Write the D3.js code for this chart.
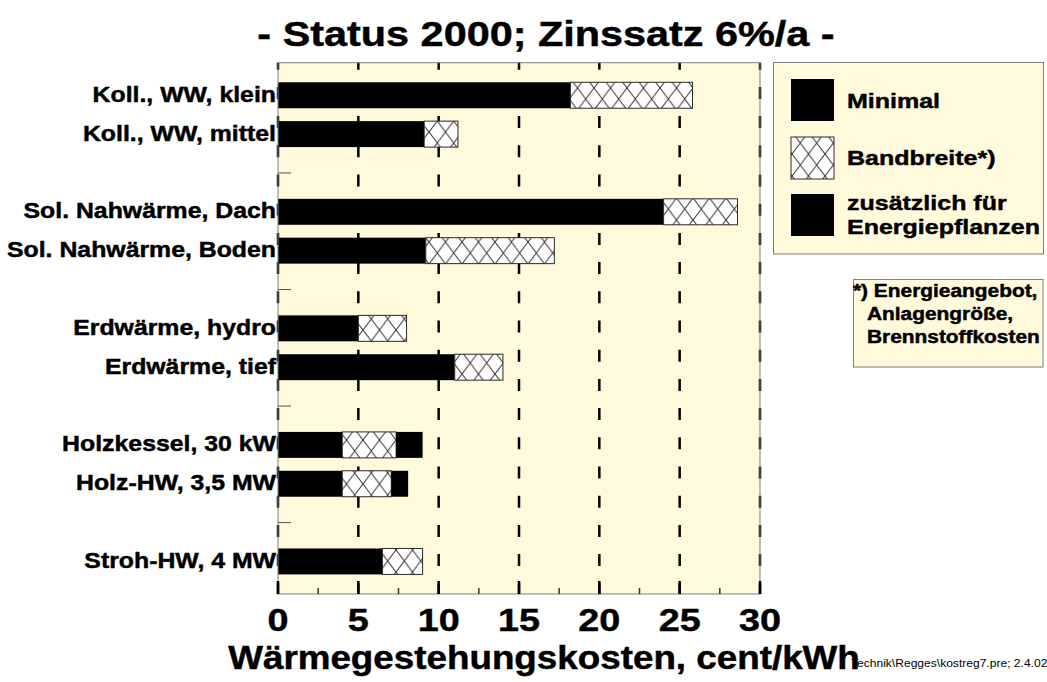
<!DOCTYPE html>
<html>
<head>
<meta charset="utf-8">
<script src="https://cdn.jsdelivr.net/npm/d3@7"></script>
<style>
  html, body { margin: 0; padding: 0; background: #ffffff; }
  svg { display: block; }
  text { font-family: "Liberation Sans", Arial, Helvetica, sans-serif; font-weight: bold; fill: #000; }
  text.heavy { stroke: #000; stroke-width: 0.45px; }
</style>
</head>
<body>
<svg id="chart" width="1047" height="682"></svg>
<script>
// ---------------- data ----------------
const categories = [
  "Koll., WW, klein", "Koll., WW, mittel",
  "Sol. Nahwärme, Dach", "Sol. Nahwärme, Boden",
  "Erdwärme, hydro", "Erdwärme, tief",
  "Holzkessel, 30 kW", "Holz-HW, 3,5 MW",
  "Stroh-HW, 4 MW"
];
const groups = [0, 0, 1, 1, 2, 2, 3, 3, 4];
// minimal cost (black)
const minimal = [18.2, 9.1, 24.0, 9.2, 5.0, 11.0, 4.0, 4.0, 6.5];
// upper end of range (hatched "Bandbreite")
const bandMax = [25.8, 11.2, 28.6, 17.2, 8.0, 14.0, 7.35, 7.05, 9.0];
// upper end incl. energy crops (black, only for wood)
const energyMax = [null, null, null, null, null, null, 9.0, 8.1, null];
const xTicks = [0, 5, 10, 15, 20, 25, 30];
const xMinorTicks = [2.5, 7.5, 12.5, 17.5, 22.5, 27.5];
const titleText = "- Status 2000; Zinssatz 6%/a -";
const xTitleText = "Wärmegestehungskosten, cent/kWh";
const legendLabels = [["Minimal"], ["Bandbreite*)"], ["zusätzlich für", "Energiepflanzen"]];
const noteLines = ["*) Energieangebot,", "Anlagengröße,", "Brennstoffkosten"];
const footerText = "Technik\\Regges\\kostreg7.pre; 2.4.02";

// ---------------- layout ----------------
const svg = d3.select("#chart");
const plot = { left: 278, right: 760, top: 62.7, bottom: 594 };
const cream = "#FFFADC";
const frameGray = "#7f7f7f";

// slot domain: categories plus separator slots between groups
const slots = [];
categories.forEach((c, i) => {
  if (i > 0 && groups[i] !== groups[i - 1]) slots.push("gap" + groups[i]);
  slots.push(c);
});

const x = d3.scaleLinear().domain([0, 30]).range([plot.left, plot.right]);
const y = d3.scaleBand().domain(slots).range([plot.top, plot.bottom])
  .paddingInner(0.332).paddingOuter(0.504);

function stext(g, str, px, py, size, anchor, sx, weight) {
  return g.append("text")
    .attr("class", weight ? null : "heavy")
    .attr("transform", `translate(${px},${py}) scale(${sx},1)`)
    .attr("text-anchor", anchor)
    .style("font-size", size + "px")
    .style("font-weight", weight || "bold")
    .text(str);
}

// hatch pattern
const defs = svg.append("defs");
const pat = defs.append("pattern").attr("id", "hatch")
  .attr("patternUnits", "userSpaceOnUse").attr("width", 16.5).attr("height", 22);
pat.append("rect").attr("width", 16.5).attr("height", 22).attr("fill", "#ffffff");
pat.append("path").attr("d", "M0,0L16.5,22M16.5,0L0,22")
  .attr("stroke", "#3a2a32").attr("stroke-width", 1).attr("fill", "none");

// ---------------- title ----------------
stext(svg, titleText, 546, 46, 36, "middle", 1.15);

// ---------------- plot background ----------------
svg.append("rect")
  .attr("x", plot.left).attr("y", plot.top)
  .attr("width", plot.right - plot.left).attr("height", plot.bottom - plot.top)
  .attr("fill", cream);

// dashed grid lines
svg.append("g").selectAll("line").data(xTicks).join("line")
  .attr("x1", d => x(d)).attr("x2", d => x(d))
  .attr("y1", plot.top).attr("y2", plot.bottom)
  .attr("stroke", "#000").attr("stroke-width", 2.5)
  .attr("stroke-dasharray", "12,17.2").attr("stroke-dashoffset", 5);

// ---------------- bars ----------------
const bars = svg.append("g");
categories.forEach((c, i) => {
  const y0 = y(c), h = y.bandwidth();
  bars.append("rect").attr("x", x(0)).attr("y", y0)
    .attr("width", x(minimal[i]) - x(0)).attr("height", h).attr("fill", "#000");
  bars.append("rect").attr("x", x(minimal[i]) ).attr("y", y0)
    .attr("width", x(bandMax[i]) - x(minimal[i])).attr("height", h)
    .attr("fill", "url(#hatch)").attr("stroke", "#2a2a2a").attr("stroke-width", 1);
  if (energyMax[i] != null) {
    bars.append("rect").attr("x", x(bandMax[i])).attr("y", y0)
      .attr("width", x(energyMax[i]) - x(bandMax[i])).attr("height", h).attr("fill", "#000");
  }
});

// ---------------- frame & axes ----------------
svg.append("rect")
  .attr("x", plot.left).attr("y", plot.top)
  .attr("width", plot.right - plot.left).attr("height", plot.bottom - plot.top)
  .attr("fill", "none").attr("stroke", frameGray).attr("stroke-width", 1);

// category separator ticks on y axis
svg.append("g").selectAll("line").data(slots.filter(s => s.startsWith("gap"))).join("line")
  .attr("x1", plot.left).attr("x2", plot.left + 13)
  .attr("y1", d => y(d) + y.bandwidth() / 2).attr("y2", d => y(d) + y.bandwidth() / 2)
  .attr("stroke", "#555").attr("stroke-width", 1);

// x axis ticks
const xAxisG = svg.append("g");
xAxisG.selectAll("line.maj").data(xTicks).join("line").attr("class", "maj")
  .attr("x1", d => x(d)).attr("x2", d => x(d))
  .attr("y1", plot.bottom - 13).attr("y2", plot.bottom)
  .attr("stroke", "#000").attr("stroke-width", 2.5);
xAxisG.selectAll("line.min").data(xMinorTicks).join("line").attr("class", "min")
  .attr("x1", d => x(d)).attr("x2", d => x(d))
  .attr("y1", plot.bottom - 6).attr("y2", plot.bottom)
  .attr("stroke", "#333").attr("stroke-width", 1.5);
xAxisG.selectAll("text").data(xTicks).join("text")
  .attr("class", "heavy")
  .attr("transform", d => `translate(${x(d)},631) scale(1.18,1)`)
  .attr("text-anchor", "middle").style("font-size", "32px")
  .text(d => d);

// y labels
categories.forEach((c, i) => {
  stext(svg, c, 276, y(c) + y.bandwidth() / 2 + 6.5, 21.5, "end", 1.155);
});

// footer (drawn before x title so the title overlaps it)
stext(svg, footerText, 851, 667, 10.5, "start", 1.15, "normal");
// x axis title
stext(svg, xTitleText, 544, 669, 33, "middle", 1.115);

// ---------------- legend ----------------
const lg = svg.append("g");
lg.append("rect").attr("x", 773.5).attr("y", 62.5).attr("width", 270).attr("height", 191.5)
  .attr("fill", cream).attr("stroke", frameGray).attr("stroke-width", 1);
const swY = [79, 137, 194];
const swFill = ["#000", "url(#hatch)", "#000"];
swY.forEach((sy, i) => {
  lg.append("rect").attr("x", 791).attr("y", sy).attr("width", 43).attr("height", 42)
    .attr("fill", swFill[i]).attr("stroke", i === 1 ? "#2a2a2a" : "none").attr("stroke-width", 1);
});
stext(lg, legendLabels[0][0], 847, 108, 21, "start", 1.19);
stext(lg, legendLabels[1][0], 847, 165, 21, "start", 1.19);
stext(lg, legendLabels[2][0], 847, 210, 21, "start", 1.19);
stext(lg, legendLabels[2][1], 847, 234, 21, "start", 1.19);

// note box
const ng = svg.append("g");
ng.append("rect").attr("x", 853.5).attr("y", 279.5).attr("width", 189.5).attr("height", 87.5)
  .attr("fill", cream).attr("stroke", frameGray).attr("stroke-width", 1);
stext(ng, noteLines[0], 853, 297, 18, "start", 1.16);
stext(ng, noteLines[1], 867, 320, 18, "start", 1.16);
stext(ng, noteLines[2], 867, 343, 18, "start", 1.16);
</script>
</body>
</html>
